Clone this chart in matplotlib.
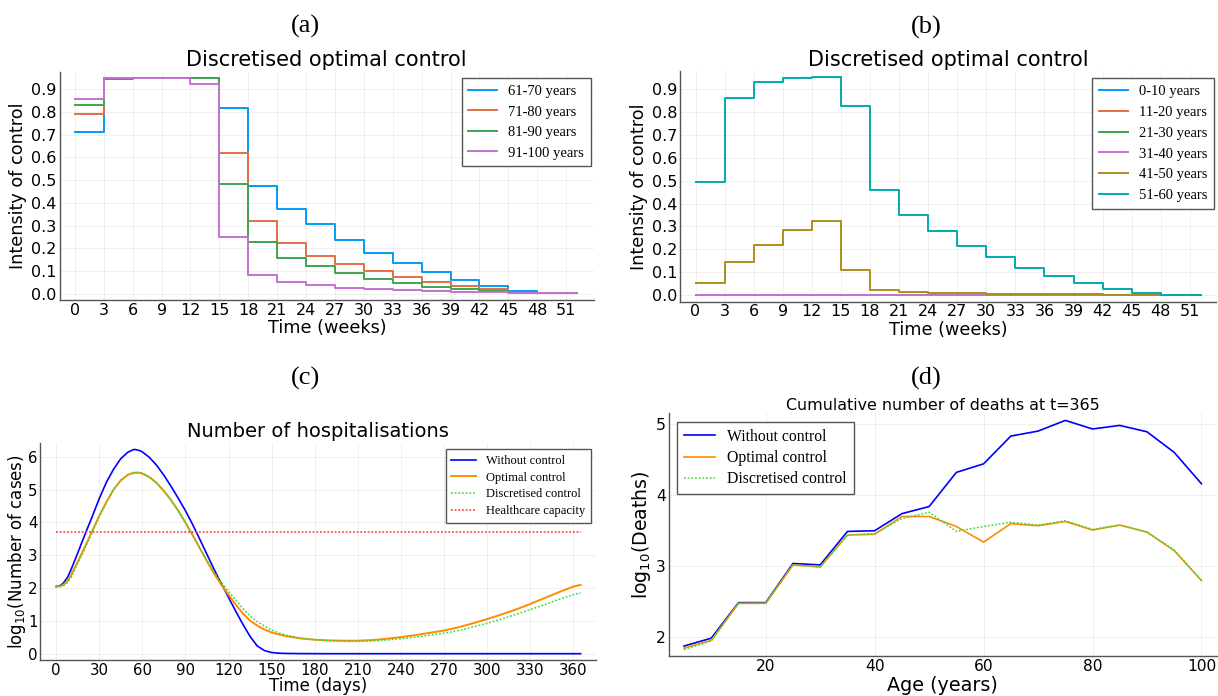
import matplotlib
matplotlib.use('Agg')
import matplotlib.pyplot as plt

# ---------------- data ----------------
week_edges = [0, 3, 6, 9, 12, 15, 18, 21, 24, 27, 30, 33, 36, 39, 42, 45, 48, 52.14]
week_ticks = [0, 3, 6, 9, 12, 15, 18, 21, 24, 27, 30, 33, 36, 39, 42, 45, 48, 51]
control_ticks = [0.0, 0.1, 0.2, 0.3, 0.4, 0.5, 0.6, 0.7, 0.8, 0.9]

# panel (a)
u61_70 = [0.712, 0.947, 0.952, 0.952, 0.952, 0.817, 0.475, 0.373, 0.306, 0.238, 0.181, 0.136, 0.096, 0.061, 0.035, 0.010, 0.003]
u71_80 = [0.792, 0.952, 0.952, 0.952, 0.952, 0.621, 0.322, 0.221, 0.168, 0.129, 0.098, 0.072, 0.050, 0.032, 0.019, 0.006, 0.002]
u81_90 = [0.833, 0.952, 0.952, 0.952, 0.952, 0.485, 0.227, 0.159, 0.120, 0.089, 0.064, 0.045, 0.031, 0.019, 0.010, 0.006, 0.002]
u91_100 = [0.857, 0.952, 0.952, 0.952, 0.926, 0.248, 0.083, 0.050, 0.037, 0.026, 0.019, 0.015, 0.010, 0.007, 0.006, 0.004, 0.003]
labels_a = ['61-70 years', '71-80 years', '81-90 years', '91-100 years']

# panel (b)
u0_10 = [0.002, 0.002, 0.002, 0.002, 0.002, 0.002, 0.002, 0.002, 0.002, 0.002, 0.002, 0.002, 0.002, 0.002, 0.002, 0.002, 0.001]
u11_20 = [0.002, 0.002, 0.002, 0.002, 0.002, 0.002, 0.002, 0.002, 0.002, 0.002, 0.002, 0.002, 0.002, 0.002, 0.002, 0.002, 0.001]
u21_30 = [0.002, 0.002, 0.002, 0.002, 0.002, 0.002, 0.002, 0.002, 0.002, 0.002, 0.002, 0.002, 0.002, 0.002, 0.002, 0.002, 0.001]
u31_40 = [0.002, 0.002, 0.002, 0.002, 0.002, 0.002, 0.002, 0.002, 0.002, 0.002, 0.002, 0.002, 0.002, 0.002, 0.002, 0.002, 0.001]
u41_50 = [0.052, 0.144, 0.220, 0.283, 0.326, 0.109, 0.025, 0.015, 0.011, 0.009, 0.007, 0.006, 0.005, 0.004, 0.003, 0.002, 0.001]
u51_60 = [0.492, 0.859, 0.931, 0.947, 0.952, 0.824, 0.460, 0.349, 0.280, 0.216, 0.165, 0.121, 0.084, 0.052, 0.028, 0.009, 0.002]
labels_b = ['0-10 years', '11-20 years', '21-30 years', '31-40 years', '41-50 years', '51-60 years']

julia_colors = ['#009AFA', '#E36F47', '#3EA44E', '#C371D2', '#AC8E18', '#00AAAE']

# panel (c)
days = [0, 3, 5, 8, 10, 15, 20, 25, 30, 35, 40, 45, 50, 54, 55, 58, 60, 65, 70, 75, 80, 85, 90, 95,
        100, 105, 110, 115, 120, 125, 130, 135, 140, 145, 150, 155, 160, 170, 180, 190, 200,
        210, 220, 230, 240, 250, 260, 270, 280, 290, 300, 310, 320, 330, 340, 350, 360, 365]
hosp_none = [2.05, 2.08, 2.15, 2.33, 2.52, 3.06, 3.62, 4.16, 4.72, 5.22, 5.62, 5.94, 6.14, 6.22, 6.22, 6.19, 6.15, 5.98, 5.74, 5.44, 5.10, 4.74, 4.36, 3.94,
             3.49, 3.03, 2.57, 2.14, 1.72, 1.30, 0.90, 0.53, 0.24, 0.10, 0.04, 0.02, 0.012, 0.008, 0.006, 0.005, 0.005,
             0.005, 0.005, 0.005, 0.005, 0.005, 0.005, 0.005, 0.005, 0.005, 0.005, 0.005, 0.005, 0.005, 0.005, 0.005, 0.005, 0.005]
hosp_opt = [2.05, 2.06, 2.10, 2.22, 2.36, 2.80, 3.25, 3.72, 4.20, 4.62, 5.00, 5.28, 5.45, 5.51, 5.51, 5.51, 5.49, 5.38, 5.20, 4.96, 4.68, 4.36, 4.00, 3.62,
            3.22, 2.82, 2.44, 2.10, 1.80, 1.50, 1.23, 1.01, 0.86, 0.74, 0.65, 0.59, 0.54, 0.47, 0.43, 0.41, 0.40,
            0.40, 0.42, 0.46, 0.51, 0.57, 0.64, 0.71, 0.81, 0.93, 1.06, 1.20, 1.35, 1.52, 1.70, 1.88, 2.05, 2.10]
hosp_disc = [2.04, 2.05, 2.07, 2.17, 2.29, 2.74, 3.20, 3.68, 4.17, 4.60, 4.99, 5.28, 5.46, 5.52, 5.53, 5.53, 5.50, 5.39, 5.21, 4.97, 4.68, 4.35, 3.98, 3.60,
             3.22, 2.84, 2.48, 2.18, 1.90, 1.65, 1.38, 1.15, 0.98, 0.85, 0.72, 0.64, 0.57, 0.48, 0.43, 0.40, 0.38,
             0.38, 0.39, 0.42, 0.46, 0.51, 0.57, 0.63, 0.71, 0.82, 0.93, 1.06, 1.20, 1.35, 1.50, 1.66, 1.80, 1.86]
capacity = 3.72
day_ticks = [0, 30, 60, 90, 120, 150, 180, 210, 240, 270, 300, 330, 360]

# panel (d)
ages = [5, 10, 15, 20, 25, 30, 35, 40, 45, 50, 55, 60, 65, 70, 75, 80, 85, 90, 95, 100]
deaths_none = [1.88, 1.99, 2.49, 2.49, 3.04, 3.02, 3.49, 3.50, 3.74, 3.84, 4.32, 4.44, 4.83, 4.90, 5.05, 4.93, 4.98, 4.89, 4.60, 4.16]
deaths_opt = [1.85, 1.96, 2.48, 2.48, 3.02, 2.99, 3.44, 3.45, 3.70, 3.70, 3.56, 3.34, 3.60, 3.57, 3.63, 3.51, 3.58, 3.48, 3.22, 2.80]
deaths_disc = [1.83, 1.95, 2.48, 2.48, 3.02, 2.99, 3.44, 3.46, 3.67, 3.76, 3.49, 3.56, 3.62, 3.58, 3.64, 3.52, 3.58, 3.48, 3.23, 2.80]
age_ticks = [20, 40, 60, 80, 100]
death_ticks = [2, 3, 4, 5]

# ---------------- figure ----------------
W, H = 1218, 696
fig = plt.figure(figsize=(W / 100, H / 100), dpi=100)

def rect(l, r, t, b):
    return [l / W, 1 - b / H, (r - l) / W, (b - t) / H]

SERIF = ['Liberation Serif', 'DejaVu Serif']

def style(ax, tick_fs):
    for s in ('top', 'right'):
        ax.spines[s].set_visible(False)
    for s in ('left', 'bottom'):
        ax.spines[s].set_color('#555555')
        ax.spines[s].set_linewidth(1.0)
    ax.grid(True, color='black', alpha=0.07, linewidth=0.6)
    ax.set_axisbelow(True)
    ax.tick_params(length=0, labelsize=tick_fs, pad=2)

def ext(v):
    return list(v) + [v[-1]]

def legend(ax, loc, anchor, fs, ls):
    leg = ax.legend(loc=loc, bbox_to_anchor=anchor, borderaxespad=0,
                    prop={'family': SERIF, 'size': fs}, frameon=True, fancybox=False,
                    edgecolor='#555555', framealpha=1, handlelength=2.0,
                    handletextpad=0.75, labelspacing=ls, borderpad=0.45)
    leg.get_frame().set_linewidth(1.0)
    return leg

# (a)
axA = fig.add_axes(rect(59.5, 594, 71.7, 300))
for vals, lab, c in zip([u61_70, u71_80, u81_90, u91_100], labels_a, julia_colors):
    axA.step(week_edges, ext(vals), where='post', color=c, lw=1.4, label=lab)
axA.set_xlim(-1.6, 53.9)
axA.set_ylim(-0.028, 0.978)
axA.set_xticks(week_ticks)
axA.set_yticks(control_ticks)
axA.set_yticklabels([f'{v:.1f}' for v in control_ticks])
style(axA, 11.5)
axA.set_title('Discretised optimal control', fontsize=15, y=(300 - 60) / 228.3, va='center', pad=0)
axA.set_ylabel('Intensity of control', fontsize=12.7, va='center')
axA.yaxis.set_label_coords(-0.077, 0.5)
axA.set_xlabel('Time (weeks)', fontsize=12.7, va='center')
axA.xaxis.set_label_coords(0.5, -0.124)
legend(axA, 'upper right', (0.9935, 0.971), 10.5, 0.5)

# (b)
axB = fig.add_axes(rect(680, 1216, 71, 301.7))
for vals, lab, c in zip([u0_10, u11_20, u21_30, u31_40, u41_50, u51_60], labels_b, julia_colors):
    axB.step(week_edges, ext(vals), where='post', color=c, lw=1.4, label=lab)
axB.set_xlim(-1.6, 53.7)
axB.set_ylim(-0.028, 0.978)
axB.set_xticks(week_ticks)
axB.set_yticks(control_ticks)
axB.set_yticklabels([f'{v:.1f}' for v in control_ticks])
style(axB, 11.5)
axB.set_title('Discretised optimal control', fontsize=15, y=(301.7 - 60) / 230.7, va='center', pad=0)
axB.set_ylabel('Intensity of control', fontsize=12.7, va='center')
axB.yaxis.set_label_coords(-0.076, 0.5)
axB.set_xlabel('Time (weeks)', fontsize=12.7, va='center')
axB.xaxis.set_label_coords(0.5, -0.1227)
legend(axB, 'upper right', (0.9963, 0.968), 10.5, 0.52)

# (c)
axC = fig.add_axes(rect(40.3, 596.4, 443.3, 660))
axC.plot(days, hosp_none, color='#0000FF', lw=1.2, label='Without control')
axC.plot(days, hosp_opt, color='#FF8C00', lw=1.4, label='Optimal control')
axC.plot(days, hosp_disc, color='#3CDC3C', lw=1.1, ls=(0, (1.2, 1.2)), label='Discretised control')
axC.plot([days[0], days[-1]], [capacity, capacity], color='#FF3030', lw=1.1, ls=(0, (1.2, 1.2)),
         label='Healthcare capacity')
axC.set_xlim(-10.95, 375.95)
axC.set_ylim(-0.187, 6.41)
axC.set_xticks(day_ticks)
axC.set_yticks([0, 1, 2, 3, 4, 5, 6])
style(axC, 10.8)
axC.set_title('Number of hospitalisations', fontsize=14, y=(660 - 431.7) / 216.7, va='center', pad=0)
axC.set_ylabel(r'log$_{10}$(Number of cases)', fontsize=12, va='center')
axC.yaxis.set_label_coords(-0.041, 0.5)
axC.set_xlabel('Time (days)', fontsize=12, va='center')
axC.xaxis.set_label_coords(0.5, -0.12)
legend(axC, 'upper right', (0.9894, 0.972), 9, 0.38)

# (d)
axD = fig.add_axes(rect(668.5, 1217, 413.3, 656))
axD.plot(ages, deaths_none, color='#0000FF', lw=1.2, label='Without control')
axD.plot(ages, deaths_opt, color='#FF8C00', lw=1.2, label='Optimal control')
axD.plot(ages, deaths_disc, color='#3CDC3C', lw=1.1, ls=(0, (1.2, 1.2)), label='Discretised control')
axD.set_xlim(2.15, 102.85)
axD.set_ylim(1.74, 5.15)
axD.set_xticks(age_ticks)
axD.set_yticks(death_ticks)
style(axD, 11.2)
axD.set_title('Cumulative number of deaths at t=365', fontsize=11.4, y=(656 - 405) / 242.7, va='center', pad=0)
axD.set_ylabel(r'log$_{10}$(Deaths)', fontsize=13.6, va='center')
axD.yaxis.set_label_coords(-0.050, 0.5)
axD.set_xlabel('Age (years)', fontsize=13.8, va='center')
axD.xaxis.set_label_coords(0.5, -0.1195)
legend(axD, 'upper left', (0.0155, 0.965), 11.3, 0.33)

# panel letters
for txt, px, py in [('(a)', 305, 26.7), ('(b)', 926.6, 27), ('(c)', 305, 378), ('(d)', 926.6, 378)]:
    fig.text(px / W, 1 - py / H, txt, ha='center', va='center', fontsize=19, family=SERIF)

fig.savefig('out.png', dpi=100)
